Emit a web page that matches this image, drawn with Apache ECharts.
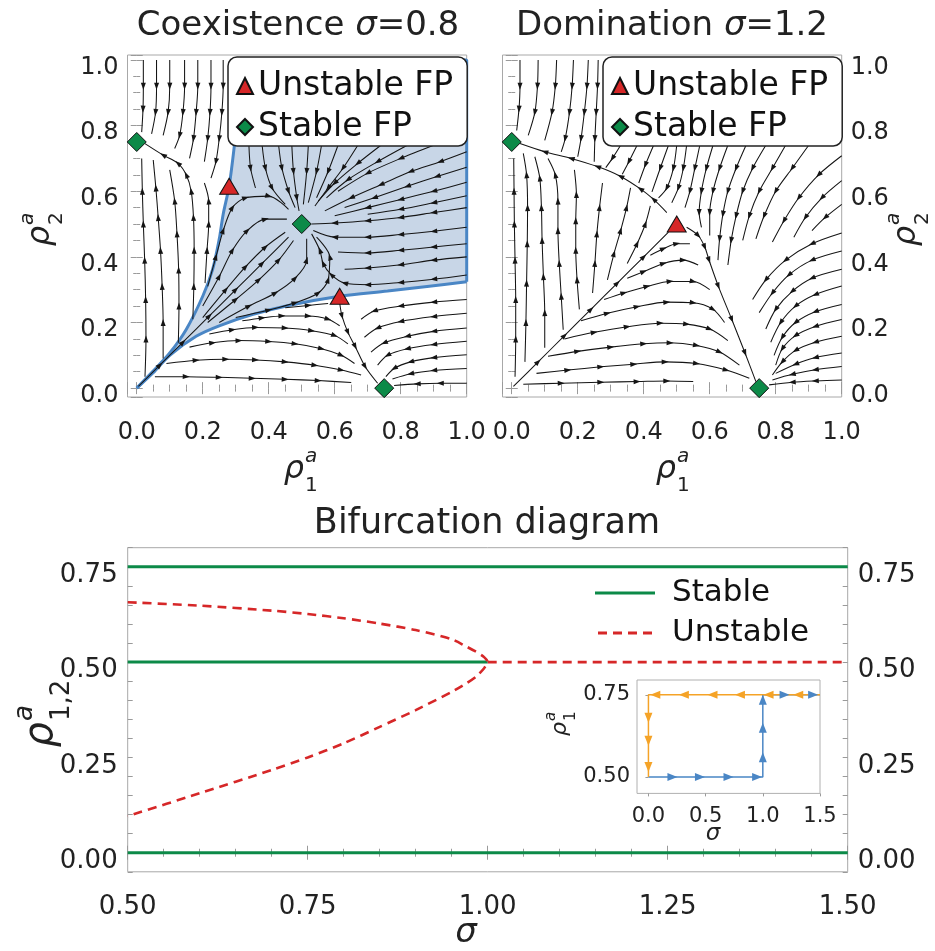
<!DOCTYPE html>
<html><head><meta charset="utf-8">
<script src="https://cdn.jsdelivr.net/npm/echarts@6/dist/echarts.min.js"></script>
<style>html,body{margin:0;padding:0;background:#fff}#c{width:935px;height:951px}</style>
</head><body><div id="c"></div>
<script>
// ================= DATA =================
// Phase portrait, coexistence (sigma = 0.8)
const coexStable = [[0,0.75],[0.5,0.5],[0.75,0]];
const coexUnstable = [[0.28,0.615],[0.615,0.28]];
const sepUpper = [[0,0],[0.049,0.051],[0.1,0.107],[0.15,0.179],[0.2,0.28],[0.23,0.362],[0.25,0.454],[0.262,0.53],[0.28,0.615],[0.296,0.74],[0.31,0.87],[0.322,1.0]];
const sepLower = [[0,0],[0.049,0.046],[0.1,0.1],[0.18,0.158],[0.25,0.19],[0.35,0.224],[0.46,0.252],[0.615,0.28],[0.76,0.296],[0.88,0.31],[1.0,0.324]];
const basinEdge = [[1.0,0.324],[1.0,1.0],[0.322,1.0]];
const streamsCoex = [
 [[0.02,1.0],[0.02,0.92],[0.019,0.85],[0.015,0.78]],
 [[0.06,1.0],[0.06,0.92],[0.057,0.84],[0.045,0.775]],
 [[0.10,1.0],[0.10,0.92],[0.095,0.84],[0.08,0.77]],
 [[0.145,1.0],[0.145,0.92],[0.14,0.84],[0.13,0.77],[0.115,0.73]],
 [[0.185,1.0],[0.185,0.92],[0.18,0.84],[0.172,0.76],[0.16,0.7]],
 [[0.225,1.0],[0.225,0.92],[0.222,0.84],[0.215,0.76],[0.205,0.69]],
 [[0.262,1.0],[0.262,0.92],[0.258,0.84],[0.25,0.76],[0.24,0.69],[0.225,0.64]],
 [[0.025,0.035],[0.028,0.15],[0.027,0.27],[0.024,0.39],[0.02,0.5],[0.017,0.6],[0.015,0.7]],
 [[0.08,0.09],[0.08,0.2],[0.077,0.31],[0.072,0.42],[0.065,0.52],[0.058,0.61],[0.05,0.695]],
 [[0.126,0.138],[0.128,0.25],[0.127,0.36],[0.122,0.47],[0.115,0.57],[0.1,0.665]],
 [[0.17,0.21],[0.173,0.31],[0.174,0.42],[0.172,0.52],[0.165,0.6],[0.15,0.65],[0.125,0.685],[0.08,0.71],[0.025,0.745]],
 [[0.207,0.32],[0.213,0.42],[0.218,0.5],[0.218,0.57],[0.205,0.625]],
 [[0.005,0.005],[0.07,0.07],[0.14,0.14],[0.22,0.22],[0.3,0.3],[0.38,0.38],[0.46,0.46]],
 [[0.215,0.31],[0.24,0.40],[0.262,0.48],[0.29,0.55],[0.33,0.58],[0.4,0.585],[0.46,0.545]],
 [[0.2,0.25],[0.25,0.34],[0.29,0.42],[0.335,0.48],[0.39,0.515],[0.455,0.515]],
 [[0.2,0.215],[0.27,0.30],[0.33,0.37],[0.39,0.43],[0.45,0.475]],
 [[0.215,0.2],[0.30,0.27],[0.37,0.33],[0.43,0.39],[0.475,0.45]],
 [[0.25,0.2],[0.34,0.25],[0.42,0.29],[0.48,0.335],[0.515,0.39],[0.515,0.455]],
 [[0.30,0.215],[0.40,0.238],[0.48,0.26],[0.55,0.29],[0.58,0.33],[0.585,0.40],[0.545,0.46]],
 [[0.34,0.74],[0.345,0.67],[0.36,0.61]],
 [[0.38,0.74],[0.39,0.67],[0.41,0.61],[0.45,0.56]],
 [[0.43,0.74],[0.44,0.67],[0.46,0.6],[0.48,0.55]],
 [[0.47,0.74],[0.475,0.66],[0.485,0.58],[0.492,0.54]],
 [[0.52,0.74],[0.515,0.66],[0.505,0.56]],
 [[0.56,0.74],[0.545,0.66],[0.52,0.565]],
 [[0.61,0.74],[0.58,0.66],[0.545,0.58]],
 [[0.67,0.74],[0.625,0.67],[0.58,0.61],[0.54,0.555]],
 [[0.74,0.74],[0.67,0.685],[0.6,0.625],[0.55,0.57]],
 [[0.82,0.74],[0.73,0.69],[0.64,0.635],[0.575,0.58]],
 [[0.9,0.74],[0.8,0.70],[0.7,0.655],[0.61,0.6]],
 [[1.0,0.72],[0.92,0.69],[0.83,0.66],[0.74,0.62],[0.65,0.58],[0.57,0.54]],
 [[1.0,0.673],[0.91,0.645],[0.82,0.615],[0.72,0.58],[0.63,0.55]],
 [[1.0,0.627],[0.9,0.6],[0.8,0.575],[0.7,0.55],[0.6,0.525]],
 [[1.0,0.586],[0.9,0.565],[0.8,0.545],[0.7,0.53]],
 [[1.0,0.55],[0.9,0.535],[0.8,0.52],[0.7,0.51],[0.6,0.503],[0.53,0.5]],
 [[1.0,0.49],[0.9,0.478],[0.8,0.468],[0.7,0.46],[0.6,0.46],[0.535,0.48]],
 [[1.0,0.44],[0.9,0.43],[0.8,0.42],[0.7,0.412],[0.61,0.415]],
 [[1.0,0.40],[0.9,0.39],[0.8,0.376],[0.7,0.366],[0.63,0.362]],
 [[1.0,0.345],[0.9,0.332],[0.8,0.322],[0.7,0.315],[0.63,0.32],[0.59,0.345],[0.565,0.38],[0.555,0.42],[0.53,0.47]],
 [[0.055,0.035],[0.15,0.035],[0.25,0.033],[0.35,0.03],[0.45,0.027],[0.55,0.023],[0.65,0.017]],
 [[0.09,0.075],[0.18,0.085],[0.27,0.088],[0.36,0.086],[0.45,0.08],[0.54,0.07],[0.62,0.055],[0.68,0.04]],
 [[0.16,0.125],[0.23,0.138],[0.31,0.145],[0.4,0.142],[0.48,0.135],[0.56,0.12],[0.62,0.1],[0.66,0.075]],
 [[0.22,0.165],[0.29,0.178],[0.36,0.185],[0.45,0.183],[0.53,0.175],[0.6,0.16],[0.64,0.135]],
 [[0.32,0.205],[0.38,0.214],[0.44,0.22],[0.52,0.22],[0.58,0.21],[0.615,0.19]],
 [[0.45,0.245],[0.52,0.252],[0.58,0.258]],
 [[0.615,0.26],[0.622,0.22],[0.64,0.17],[0.662,0.127],[0.692,0.066],[0.73,0.015]],
 [[1.0,0.27],[0.9,0.262],[0.8,0.25],[0.72,0.235],[0.68,0.21]],
 [[1.0,0.228],[0.9,0.218],[0.8,0.203],[0.73,0.183],[0.69,0.155]],
 [[1.0,0.183],[0.9,0.173],[0.82,0.158],[0.75,0.138],[0.71,0.11]],
 [[1.0,0.143],[0.9,0.133],[0.82,0.12],[0.76,0.1],[0.73,0.07]],
 [[1.0,0.102],[0.9,0.093],[0.83,0.08],[0.78,0.06],[0.755,0.035]],
 [[1.0,0.06],[0.9,0.054],[0.83,0.044],[0.775,0.028]],
 [[1.0,0.015],[0.92,0.015],[0.85,0.013],[0.78,0.008]]
];

// Phase portrait, domination (sigma = 1.2)
const domStable = [[0,0.75],[0.75,0]];
const domUnstable = [[0.5,0.5]];
const streamsDom = [
 [[0.025,1.0],[0.025,0.92],[0.022,0.85],[0.015,0.785]],
 [[0.08,1.0],[0.078,0.92],[0.07,0.84],[0.05,0.77]],
 [[0.136,1.0],[0.132,0.92],[0.122,0.84],[0.1,0.755]],
 [[0.187,1.0],[0.183,0.92],[0.175,0.84],[0.162,0.76],[0.15,0.72]],
 [[0.232,1.0],[0.228,0.92],[0.22,0.84],[0.21,0.76],[0.2,0.705]],
 [[0.262,1.0],[0.26,0.92],[0.256,0.84],[0.252,0.76],[0.25,0.69]],
 [[0.33,0.74],[0.305,0.70],[0.285,0.672]],
 [[0.38,0.74],[0.355,0.69],[0.335,0.652]],
 [[0.43,0.74],[0.405,0.68],[0.385,0.625]],
 [[0.475,0.74],[0.45,0.67],[0.425,0.598]],
 [[0.47,0.535],[0.43,0.575],[0.39,0.607],[0.33,0.645],[0.26,0.675],[0.18,0.7],[0.1,0.72],[0.025,0.745]],
 [[0.01,0.035],[0.012,0.15],[0.012,0.27],[0.01,0.39],[0.008,0.5],[0.007,0.6],[0.006,0.7]],
 [[0.04,0.08],[0.043,0.2],[0.045,0.32],[0.047,0.44],[0.048,0.55],[0.045,0.65],[0.035,0.715]],
 [[0.1,0.123],[0.1,0.23],[0.096,0.34],[0.092,0.45],[0.09,0.55],[0.085,0.64],[0.07,0.705]],
 [[0.156,0.178],[0.15,0.28],[0.144,0.38],[0.14,0.48],[0.14,0.57],[0.132,0.65],[0.11,0.7]],
 [[0.205,0.24],[0.198,0.33],[0.194,0.42],[0.194,0.51],[0.196,0.59],[0.19,0.665]],
 [[0.245,0.29],[0.252,0.38],[0.258,0.47],[0.266,0.55],[0.275,0.625]],
 [[0.29,0.33],[0.31,0.41],[0.33,0.48],[0.348,0.55],[0.36,0.61]],
 [[0.35,0.38],[0.38,0.44],[0.405,0.5],[0.42,0.555]],
 [[0.005,0.005],[0.08,0.08],[0.16,0.16],[0.24,0.24],[0.32,0.32],[0.4,0.4],[0.475,0.475]],
 [[0.5,0.74],[0.49,0.67],[0.47,0.61],[0.445,0.58]],
 [[0.53,0.74],[0.52,0.67],[0.505,0.61],[0.485,0.565]],
 [[0.57,0.74],[0.555,0.67],[0.54,0.6],[0.525,0.55]],
 [[0.61,0.74],[0.59,0.67],[0.575,0.6],[0.568,0.535],[0.575,0.49]],
 [[0.655,0.74],[0.63,0.67],[0.61,0.6],[0.6,0.535],[0.6,0.465]],
 [[0.71,0.74],[0.68,0.67],[0.655,0.6],[0.64,0.53],[0.63,0.455],[0.625,0.39]],
 [[0.77,0.74],[0.73,0.67],[0.7,0.6],[0.68,0.525],[0.665,0.45],[0.655,0.375]],
 [[0.83,0.74],[0.79,0.67],[0.75,0.6],[0.72,0.525],[0.7,0.45]],
 [[0.9,0.74],[0.85,0.67],[0.8,0.6],[0.765,0.525],[0.74,0.455]],
 [[1.0,0.708],[0.93,0.65],[0.87,0.58],[0.825,0.51],[0.79,0.445]],
 [[1.0,0.632],[0.94,0.58],[0.89,0.52],[0.855,0.46]],
 [[1.0,0.56],[0.95,0.52],[0.91,0.48]],
 [[0.53,0.49],[0.565,0.465],[0.585,0.43],[0.598,0.39],[0.626,0.311],[0.667,0.209],[0.707,0.107],[0.74,0.02]],
 [[1.0,0.473],[0.91,0.44],[0.83,0.39],[0.77,0.33],[0.73,0.27]],
 [[1.0,0.418],[0.91,0.39],[0.84,0.345],[0.79,0.29],[0.75,0.23]],
 [[1.0,0.362],[0.91,0.335],[0.85,0.295],[0.8,0.24],[0.77,0.18]],
 [[1.0,0.311],[0.92,0.285],[0.86,0.25],[0.815,0.2],[0.785,0.14]],
 [[1.0,0.255],[0.92,0.233],[0.86,0.2],[0.82,0.155],[0.795,0.1]],
 [[1.0,0.209],[0.92,0.188],[0.86,0.16],[0.82,0.12],[0.8,0.07]],
 [[1.0,0.158],[0.92,0.14],[0.86,0.115],[0.82,0.08],[0.79,0.04]],
 [[1.0,0.107],[0.92,0.093],[0.86,0.073],[0.8,0.045]],
 [[1.0,0.066],[0.92,0.056],[0.85,0.042],[0.79,0.025]],
 [[1.0,0.025],[0.92,0.022],[0.85,0.018],[0.78,0.01]],
 [[0.035,0.012],[0.15,0.015],[0.27,0.018],[0.38,0.02],[0.47,0.022],[0.55,0.02]],
 [[0.075,0.045],[0.17,0.055],[0.27,0.065],[0.37,0.073],[0.465,0.08],[0.56,0.075],[0.65,0.055],[0.72,0.03]],
 [[0.11,0.097],[0.2,0.112],[0.3,0.125],[0.4,0.135],[0.48,0.138],[0.56,0.13],[0.63,0.11],[0.69,0.07]],
 [[0.16,0.15],[0.25,0.17],[0.35,0.187],[0.45,0.198],[0.53,0.195],[0.6,0.18],[0.655,0.145]],
 [[0.21,0.205],[0.29,0.228],[0.38,0.248],[0.47,0.262],[0.55,0.26],[0.61,0.24],[0.645,0.2]],
 [[0.28,0.27],[0.34,0.29],[0.41,0.31],[0.48,0.325],[0.55,0.325],[0.6,0.3]],
 [[0.35,0.335],[0.4,0.355],[0.46,0.38],[0.52,0.39],[0.565,0.375]],
 [[0.42,0.405],[0.46,0.425],[0.5,0.44],[0.54,0.44]]
];

// Bifurcation diagram
const stableTop = [[0.5,0.75],[1.5,0.75]];
const stableMid = [[0.5,0.5],[1.0,0.5]];
const stableBottom = [[0.5,0],[1.5,0]];
const unstableFold = [[0.5,0.657],[0.6,0.648],[0.7,0.635],[0.75,0.626],[0.8,0.615],[0.85,0.601],[0.9,0.584],[0.95,0.56],[0.97,0.541],[0.984,0.527],[0.995,0.513],[1.0,0.5],[0.995,0.484],[0.984,0.462],[0.97,0.444],[0.95,0.422],[0.9,0.374],[0.85,0.33],[0.8,0.287],[0.75,0.25],[0.7,0.217],[0.6,0.156],[0.5,0.096]];
const unstableHigh = [[1.0,0.5],[1.5,0.5]];
const bifXTicks = [0.5,0.75,1.0,1.25,1.5];
const bifYTicks = [0,0.25,0.5,0.75];

// Inset: hysteresis loop
const insetOrangePath = [[1.5,0.75],[0,0.75],[0,0.5]];
const insetBluePath = [[0,0.5],[1.0,0.5],[1.0,0.75],[1.5,0.75]];
const insetOrangeArrows = [[1.31,0.75],[1.05,0.75],[0.8,0.75],[0.56,0.75],[0.31,0.75],[0.06,0.75],[0,0.68],[0,0.61],[0,0.53]];
const insetBlueArrows = [[0.21,0.5],[0.45,0.5],[0.7,0.5],[0.95,0.5],[1.0,0.56],[1.0,0.65],[1.0,0.735],[1.19,0.75],[1.44,0.75]];
const insetYTicks = [0.5,0.75];

// ================= STYLE / HELPERS =================
const FONT = 'DejaVu Sans';
const TXT = '#222';
const GREEN = '#0c8a48';
const RED = '#d62728';
const BLUE = '#4a86c5';
const ORANGE = '#f5a327';
const ARROW = 'path://M0,0L10,4L0,8Z';
const ICON_SOLID = 'path://M0,0H60V3H0Z';
const ICON_DASHED = 'path://M0,0H9V3H0ZM15,0H24V3H15ZM30,0H39V3H30ZM45,0H54V3H45Z';

function streamArrows(lines, kx, ky) {
  const out = [];
  lines.forEach(l => {
    for (let i = 1; i < l.length - 1; i++) {
      const dx = (l[i+1][0] - l[i-1][0]) * kx, dy = (l[i+1][1] - l[i-1][1]) * ky;
      out.push({ value: l[i], symbolRotate: Math.atan2(dy, dx) * 180 / Math.PI });
    }
  });
  return out;
}
function pathArrows(path, pts, kx, ky) {
  return pts.map(a => {
    let best = 0, bd = Infinity;
    for (let i = 0; i < path.length - 1; i++) {
      const p = path[i], q = path[i+1];
      const ux = (q[0]-p[0])*kx, uy = (q[1]-p[1])*ky, wx = (a[0]-p[0])*kx, wy = (a[1]-p[1])*ky;
      const L = ux*ux + uy*uy;
      let t = L ? (ux*wx + uy*wy) / L : 0; t = Math.max(0, Math.min(1, t));
      const d = Math.hypot(wx - t*ux, wy - t*uy);
      if (d < bd) { bd = d; best = Math.atan2(uy, ux) * 180 / Math.PI; }
    }
    return { value: a, symbolRotate: best };
  });
}

const tickStyle = { color: '#9a9a9a', width: 1 };
function phaseX(gridIndex, showLabel) {
  return {
    type: 'value', gridIndex, min: -0.028, max: 1.0, position: showLabel ? 'bottom' : 'top',
    axisLine: { show: false }, splitLine: { show: false },
    axisTick: { show: true, inside: true, length: 6, lineStyle: tickStyle },
    minorTick: { show: true, splitNumber: 4, length: 3.5, lineStyle: tickStyle },
    axisLabel: { show: showLabel, showMinLabel: false, margin: 24, fontSize: 24, color: TXT, fontFamily: FONT,
      formatter: v => v.toFixed(1) }
  };
}
function phaseY(gridIndex, position, showLabel) {
  return {
    type: 'value', gridIndex, min: -0.027, max: 1.015, position,
    axisLine: { show: false }, splitLine: { show: false },
    axisTick: { show: true, inside: true, length: 6, lineStyle: tickStyle },
    minorTick: { show: true, splitNumber: 4, length: 3.5, lineStyle: tickStyle },
    axisLabel: { show: showLabel, showMinLabel: false, showMaxLabel: false, margin: 9, fontSize: 24, color: TXT,
      fontFamily: FONT, verticalAlign: 'top', lineHeight: 15, formatter: v => v.toFixed(1) }
  };
}
function bifX(gridIndex, showLabel) {
  return {
    type: 'value', gridIndex, min: 0.5, max: 1.5, interval: 0.25, position: showLabel ? 'bottom' : 'top',
    axisLine: { show: false }, splitLine: { show: false },
    axisTick: { show: true, inside: true, length: 7, lineStyle: tickStyle },
    minorTick: { show: true, splitNumber: 5, length: 4, lineStyle: tickStyle },
    axisLabel: { show: showLabel, margin: 22, fontSize: 26, color: TXT, fontFamily: FONT,
      formatter: v => bifXTicks.some(t => Math.abs(t - v) < 1e-6) ? v.toFixed(2) : '' }
  };
}
function bifY(gridIndex, position) {
  return {
    type: 'value', gridIndex, min: -0.05, max: 0.8, interval: 0.05, position,
    axisLine: { show: false }, splitLine: { show: false },
    axisTick: { show: true, inside: true, length: 5, lineStyle: tickStyle },
    axisLabel: { show: true, margin: 10, fontSize: 26, color: TXT, fontFamily: FONT, verticalAlign: 'top', lineHeight: 17,
      formatter: v => bifYTicks.some(t => Math.abs(t - v) < 1e-6) ? v.toFixed(2) : '' }
  };
}

// series builders
const series = [];
function addStreams(lines, xi, yi, kx, ky) {
  lines.forEach(l => series.push({
    type: 'line', xAxisIndex: xi, yAxisIndex: yi, data: l, smooth: 0.3, symbol: 'none', silent: true, z: 3,
    lineStyle: { color: '#151515', width: 1.05 }, emphasis: { disabled: true }
  }));
  series.push({
    type: 'scatter', xAxisIndex: xi, yAxisIndex: yi, data: streamArrows(lines, kx, ky), symbol: ARROW,
    symbolSize: [7, 5], silent: true, z: 4, itemStyle: { color: '#151515', opacity: 1 }, emphasis: { disabled: true }
  });
}
function addFP(stable, unstable, xi, yi) {
  series.push({ name: 'Stable FP', type: 'scatter', xAxisIndex: xi, yAxisIndex: yi, data: stable, symbol: 'diamond',
    symbolSize: 19, z: 6, itemStyle: { color: GREEN, borderColor: '#111', borderWidth: 1, opacity: 1 }, emphasis: { disabled: true } });
  series.push({ name: 'Unstable FP', type: 'scatter', xAxisIndex: xi, yAxisIndex: yi, data: unstable, symbol: 'triangle',
    symbolSize: [19, 16], z: 6, itemStyle: { color: RED, borderColor: '#111', borderWidth: 1, opacity: 1 }, emphasis: { disabled: true } });
}

// Coexistence: shaded basin
const shadePolygon = sepLower.concat(basinEdge.slice(1, 2), sepUpper.slice().reverse());
series.push({
  type: 'custom', xAxisIndex: 0, yAxisIndex: 0, data: shadePolygon, silent: true, z: 1, clip: true,
  renderItem: (params, api) => {
    if (params.dataIndex !== 0) return null;
    return { type: 'polygon', shape: { points: shadePolygon.map(p => api.coord(p)) }, style: { fill: '#c8d6e7' } };
  }
});
[sepUpper, sepLower, basinEdge].forEach(l => series.push({
  type: 'line', xAxisIndex: 0, yAxisIndex: 0, data: l, smooth: l === basinEdge ? false : 0.3, symbol: 'none',
  silent: true, z: 2, lineStyle: { color: BLUE, width: 3 }
}));
addStreams(streamsCoex, 0, 0, 330, 328);
addFP(coexStable, coexUnstable, 0, 0);
addStreams(streamsDom, 2, 2, 330, 328);
addFP(domStable, domUnstable, 2, 2);

// Bifurcation
[stableTop, stableMid, stableBottom].forEach(d => series.push({
  name: 'Stable', type: 'line', xAxisIndex: 4, yAxisIndex: 4, data: d, symbol: 'none', showSymbol: false, z: 3,
  lineStyle: { color: GREEN, width: 3 }, itemStyle: { color: GREEN }
}));
[unstableFold, unstableHigh].forEach(d => series.push({
  name: 'Unstable', type: 'line', xAxisIndex: 4, yAxisIndex: 4, data: d, symbol: 'none', showSymbol: false, z: 4,
  smooth: d === unstableFold ? 0.25 : false,
  lineStyle: { color: RED, width: 2.6, type: [9, 6] }, itemStyle: { color: RED }
}));

// Inset
series.push({ type: 'line', xAxisIndex: 6, yAxisIndex: 6, data: insetBluePath, symbol: 'none', z: 7, silent: true,
  lineStyle: { color: BLUE, width: 1.5 } });
series.push({ type: 'line', xAxisIndex: 6, yAxisIndex: 6, data: insetOrangePath, symbol: 'none', z: 7, silent: true,
  lineStyle: { color: ORANGE, width: 1.5 } });
series.push({ type: 'scatter', xAxisIndex: 6, yAxisIndex: 6, data: pathArrows(insetBluePath, insetBlueArrows, 114, 328),
  symbol: ARROW, symbolSize: [10, 8], z: 8, silent: true, itemStyle: { color: BLUE, opacity: 1 } });
series.push({ type: 'scatter', xAxisIndex: 6, yAxisIndex: 6, data: pathArrows(insetOrangePath, insetOrangeArrows, 114, 328),
  symbol: ARROW, symbolSize: [10, 8], z: 8, silent: true, itemStyle: { color: ORANGE, opacity: 1 } });

// ---- axis-name graphics (rho with stacked sup/sub) ----
function rhoName(x, y, sup, sub, size, small, rotated) {
  return {
    type: 'group', x, y, rotation: rotated ? Math.PI / 2 : 0, silent: true, z: 30,
    children: [
      { type: 'text', x: 0, y: 0, style: { text: 'ρ', font: `italic ${size}px "${FONT}"`, fill: TXT, align: 'right', verticalAlign: 'middle' } },
      { type: 'text', x: 1, y: -size * 0.42, style: { text: sup, font: `italic ${small}px "${FONT}"`, fill: TXT, align: 'left', verticalAlign: 'middle' } },
      { type: 'text', x: 1, y: size * 0.5, style: { text: sub, font: `${small}px "${FONT}"`, fill: TXT, align: 'left', verticalAlign: 'middle' } }
    ]
  };
}
function sigmaName(x, y, size) {
  return { type: 'text', x, y, silent: true, z: 30,
    style: { text: 'σ', font: `italic ${size}px "${FONT}"`, fill: TXT, align: 'center', verticalAlign: 'middle' } };
}

const titleStyle = { fontSize: 34, fontWeight: 'normal', color: TXT, fontFamily: FONT,
  rich: { i: { fontStyle: 'italic', fontSize: 34, color: TXT, fontFamily: FONT } } };

const option = {
  animation: false,
  backgroundColor: '#fff',
  title: [
    { text: 'Coexistence {i|σ}=0.8', left: 298, top: 9, textAlign: 'center', padding: 0, textStyle: titleStyle },
    { text: 'Domination {i|σ}=1.2', left: 672, top: 9, textAlign: 'center', padding: 0, textStyle: titleStyle },
    { text: 'Bifurcation diagram', left: 487, top: 506, textAlign: 'center', padding: 0,
      textStyle: { fontSize: 35, fontWeight: 'normal', color: TXT, fontFamily: FONT } }
  ],
  grid: [
    { left: 127.5, top: 55, width: 339.2, height: 342, show: true, borderColor: '#a8a8a8', borderWidth: 1, backgroundColor: 'transparent' },
    { left: 502.5, top: 55, width: 339.2, height: 342, show: true, borderColor: '#a8a8a8', borderWidth: 1, backgroundColor: 'transparent' },
    { left: 127.7, top: 547.7, width: 720, height: 324.1, show: true, borderColor: '#a8a8a8', borderWidth: 1, backgroundColor: 'transparent' },
    { left: 637, top: 680, width: 183, height: 113.4, show: true, borderColor: '#b0b0b0', borderWidth: 1, backgroundColor: '#fff', z: 6 }
  ],
  xAxis: [
    phaseX(0, true), phaseX(0, false), phaseX(1, true), phaseX(1, false),
    bifX(2, true), bifX(2, false),
    { type: 'value', gridIndex: 3, min: -0.1, max: 1.5, splitNumber: 3, position: 'bottom', z: 7,
      axisLine: { show: false }, splitLine: { show: false },
      axisTick: { show: true, inside: false, length: 3, lineStyle: tickStyle },
      axisLabel: { showMinLabel: false, margin: 13, fontSize: 21, color: TXT, fontFamily: FONT, formatter: v => v.toFixed(1) } }
  ],
  yAxis: [
    phaseY(0, 'left', true), phaseY(0, 'right', false), phaseY(1, 'left', false), phaseY(1, 'right', true),
    bifY(2, 'left'), bifY(2, 'right'),
    { type: 'value', gridIndex: 3, min: 0.45, max: 0.795, interval: 0.05, position: 'left', z: 7,
      axisLine: { show: false }, splitLine: { show: false },
      axisTick: { show: true, inside: false, length: 3, lineStyle: tickStyle, customValues: [0.5, 0.625, 0.75] },
      axisLabel: { margin: 7, fontSize: 21, color: TXT, fontFamily: FONT, customValues: insetYTicks,
        formatter: v => insetYTicks.some(t => Math.abs(t - v) < 1e-6) ? v.toFixed(2) : '' } }
  ],
  legend: [
    { orient: 'vertical', left: 228, top: 57, z: 20, selectedMode: false, itemWidth: 16, itemHeight: 16, itemGap: 7,
      padding: [12, 14, 2, 8], backgroundColor: '#fff', borderColor: '#222', borderWidth: 1.5, borderRadius: 9,
      textStyle: { fontSize: 33, lineHeight: 34, color: '#111', fontFamily: FONT },
      data: [{ name: 'Unstable FP', icon: 'triangle' }, { name: 'Stable FP', icon: 'diamond' }] },
    { orient: 'vertical', left: 603, top: 57, z: 20, selectedMode: false, itemWidth: 16, itemHeight: 16, itemGap: 7,
      padding: [12, 14, 2, 8], backgroundColor: '#fff', borderColor: '#222', borderWidth: 1.5, borderRadius: 9,
      textStyle: { fontSize: 33, lineHeight: 34, color: '#111', fontFamily: FONT },
      data: [{ name: 'Unstable FP', icon: 'triangle' }, { name: 'Stable FP', icon: 'diamond' }] },
    { orient: 'vertical', left: 595, top: 577, z: 20, selectedMode: false, itemWidth: 60, itemHeight: 3, itemGap: 8,
      padding: 0, textStyle: { fontSize: 31, lineHeight: 32, color: '#111', fontFamily: FONT, padding: [0, 0, 0, 12] },
      data: [{ name: 'Stable', icon: ICON_SOLID }, { name: 'Unstable', icon: ICON_DASHED }] }
  ],
  graphic: [
    rhoName(304, 470, 'a', '1', 32, 20, false),
    rhoName(676, 470, 'a', '1', 32, 20, false),
    rhoName(41, 226, 'a', '2', 32, 20, true),
    rhoName(907, 226, 'a', '2', 32, 20, true),
    rhoName(42, 722, 'a', '1,2', 40, 26, true),
    sigmaName(466, 933, 34),
    rhoName(560, 722, 'a', '1', 22, 15, true),
    sigmaName(713, 834, 23)
  ],
  series
};

const chart = echarts.init(document.getElementById('c'), null, { renderer: 'canvas' });
chart.setOption(option);
</script>
</body></html>
